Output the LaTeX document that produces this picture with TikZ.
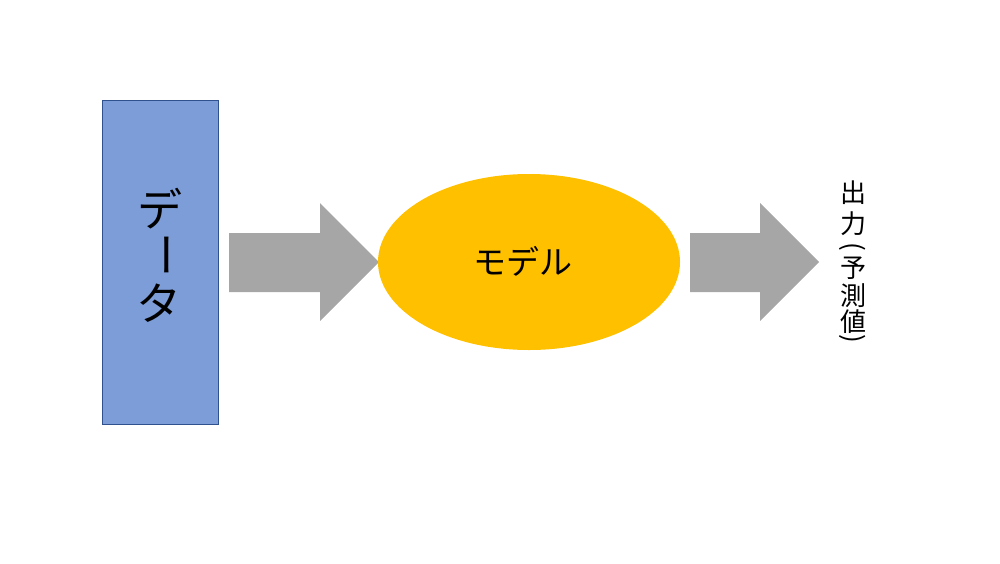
\documentclass[tikz,border=0pt]{standalone}
\usepackage{fontspec}
\newfontfamily\jp{Noto Sans CJK JP}
\usetikzlibrary{shapes.geometric}
\definecolor{databox}{HTML}{7D9DD8}
\definecolor{databorder}{HTML}{2F528F}
\definecolor{modelfill}{HTML}{FFC000}
\definecolor{arrowgray}{HTML}{A6A6A6}
\tikzset{
  bigchar/.style={inner sep=0pt, font=\jp\fontsize{45}{45}\selectfont},
  smallchar/.style={inner sep=0pt, font=\jp\fontsize{26}{26}\selectfont},
  blockarrow/.style={fill=arrowgray, draw=none},
}
\begin{document}
\begin{tikzpicture}[x=1pt,y=-1pt]
\useasboundingbox (0,0) rectangle (1000,563);
% data box
\node[draw=databorder, fill=databox, line width=0.8pt, minimum width=116pt, minimum height=324pt, inner sep=0pt] (data) at (160,262) {};
\node[bigchar] (d1) at (160,209) {デ};
\node[bigchar, rotate=-90] (d2) at (159,255) {ー};
\node[bigchar] (d3) at (159,303) {タ};
% arrow 1
\fill[blockarrow] (229,233) -- (320,233) -- (320,203) -- (379,262) -- (320,321) -- (320,292) -- (229,292) -- cycle;
% model
\node[ellipse, fill=modelfill, draw=none, minimum width=302pt, minimum height=176pt, inner sep=0pt] (model) at (529,262) {};
\node[font=\jp\fontsize{33}{33}\selectfont, inner sep=0pt] (modeltext) at (523,261) {モデル};
% arrow 2
\fill[blockarrow] (690,233) -- (760,233) -- (760,203) -- (819,262) -- (760,321) -- (760,292) -- (690,292) -- cycle;
% output text (vertical)
\node[smallchar] (o1) at (853,193) {出};
\node[smallchar] (o2) at (853,224) {力};
\node[smallchar, rotate=-90] (o3) at (853,247) {(};
\node[smallchar] (o4) at (853,268) {予};
\node[smallchar] (o5) at (853,296) {測};
\node[smallchar] (o6) at (853,322) {値};
\node[smallchar, rotate=-90] (o7) at (853,339) {)};
\end{tikzpicture}
\end{document}
